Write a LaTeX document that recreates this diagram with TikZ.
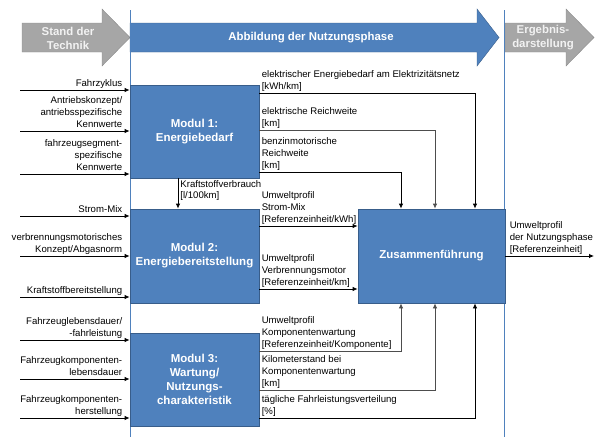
\documentclass[tikz,border=0pt]{standalone}
\usepackage{fontspec}
\setmainfont{Liberation Sans}
\usetikzlibrary{arrows.meta}
\definecolor{modblue}{HTML}{4F81BD}
\definecolor{modedge}{HTML}{385D8A}
\definecolor{stagegray}{HTML}{A6A6A6}
\definecolor{stageedge}{HTML}{8C8C8C}
\definecolor{stagetext}{HTML}{F2F2F2}
\definecolor{linegray}{HTML}{4D4D4D}
\begin{document}
\begin{tikzpicture}
  [x=1pt,y=-1pt,
   modul/.style={rectangle,draw=modedge,line width=.8pt,fill=modblue,text=white,
     font=\fontsize{11.5}{14}\selectfont\bfseries,align=center,inner sep=0pt},
   lbl/.style={font=\fontsize{9.6}{11.6}\selectfont,text depth=0pt,inner xsep=2pt,inner ysep=3.5pt},
   inlbl/.style={lbl,align=right,anchor=south east,xshift=-5pt},
   outlbl/.style={lbl,align=left,anchor=south west},
   arr/.style={draw=black,line width=.8pt,-{Latex[length=5pt,width=4.5pt]}},
   grayarr/.style={arr,draw=linegray},
   phase/.style={font=\fontsize{11.4}{14}\selectfont\bfseries,align=center}]
  \useasboundingbox (0,0) rectangle (595,437);

  % phase arrows
  \filldraw[fill=stagegray,draw=stageedge] (22,23) -- (102,23) -- (102,9) -- (130,37.5)
    -- (102,66) -- (102,52) -- (22,52) -- cycle;
  \filldraw[fill=modblue,draw=modedge] (130,23) -- (477,23) -- (477,9) -- (499,37.5)
    -- (477,66) -- (477,52) -- (130,52) -- cycle;
  \filldraw[fill=stagegray,draw=stageedge] (505,23) -- (566,23) -- (566,9) -- (594,37.5)
    -- (566,66) -- (566,52) -- (505,52) -- cycle;
  \node[phase,text=stagetext] (sdt) at (68,38) {Stand der\\Technik};
  \node[phase,text=white] (anp) at (311,37.5) {Abbildung der Nutzungsphase};
  \node[phase,text=stagetext] (erg) at (543,38) {Ergebnis-\\darstellung};
  \draw[modblue,line width=.8pt] (130,10) -- (130,437);
  \draw[modblue,line width=.8pt] (504,10) -- (504,437);

  % modules
  \node[modul,minimum width=129pt,minimum height=93pt] (m1) at (194.5,131.5) {Modul 1:\\Energiebedarf};
  \node[modul,minimum width=129pt,minimum height=94pt] (m2) at (194.5,256) {Modul 2:\\Energiebereitstellung};
  \node[modul,minimum width=129pt,minimum height=93pt] (m3) at (194.5,379.5) {Modul 3:\\Wartung/\\Nutzungs-\\charakteristik};
  \node[modul,minimum width=147pt,minimum height=94pt] (zus) at (431.5,256) {Zusammenführung};

  % inputs
  \foreach \y/\m/\txt in {90/m1/Fahrzyklus,
      131/m1/{Antriebskonzept/\\antriebsspezifische\\Kennwerte},
      174/m1/{fahrzeugsegment-\\spezifische\\Kennwerte},
      216/m2/Strom-Mix,
      256/m2/{verbrennungsmotorisches\\Konzept/Abgasnorm},
      297/m2/Kraftstoffbereitstellung,
      340/m3/{Fahrzeuglebensdauer/\\-fahrleistung},
      379/m3/{Fahrzeugkomponenten-\\lebensdauer},
      418/m3/{Fahrzeugkomponenten-\\herstellung}}
  {
    \coordinate (in) at (20,\y);
    \draw[arr] (in) -- (in -| \m.west) node[inlbl,pos=1] {\txt};
  }

  % Modul 1 to Modul 2
  \draw[arr] (m1.south -| 178,0) -- (m2.north -| 178,0)
    node[lbl,pos=0,anchor=north west,align=left,inner ysep=1.5pt] {Kraftstoffverbrauch\\{[l/100km]}};

  % outputs to Zusammenfuehrung
  \draw[arr] (m1.east |- 0,93) -| (zus.north -| 475,0)
    node[outlbl,pos=0] {elektrischer Energiebedarf am Elektrizitätsnetz\\{[kWh/km]}};
  \draw[grayarr] (m1.east |- 0,130) -| (zus.north -| 435,0)
    node[outlbl,pos=0] {elektrische Reichweite\\{[km]}};
  \draw[arr] (m1.east |- 0,172) -| (zus.north -| 401,0)
    node[outlbl,pos=0] {benzinmotorische\\Reichweite\\{[km]}};
  \draw[arr] (m2.east |- 0,226) -- (zus.west |- 0,226)
    node[outlbl,pos=0] {Umweltprofil\\Strom-Mix\\{[Referenzeinheit/kWh]}};
  \draw[arr] (m2.east |- 0,289) -- (zus.west |- 0,289)
    node[outlbl,pos=0] {Umweltprofil\\Verbrennungsmotor\\{[Referenzeinheit/km]}};
  \draw[grayarr] (m3.east |- 0,351) -| (zus.south -| 401,0)
    node[outlbl,pos=0] {Umweltprofil\\Komponentenwartung\\{[Referenzeinheit/Komponente]}};
  \draw[grayarr] (m3.east |- 0,390) -| (zus.south -| 435,0)
    node[outlbl,pos=0] {Kilometerstand bei\\Komponentenwartung\\{[km]}};
  \draw[arr] (m3.east |- 0,418) -| (zus.south -| 475,0)
    node[outlbl,pos=0] {tägliche Fahrleistungsverteilung\\{[\%]}};

  % result
  \coordinate (out) at (594,256);
  \draw[arr] (zus.east |- out) -- (out)
    node[outlbl,pos=0,xshift=2pt] {Umweltprofil\\der Nutzungsphase\\{[Referenzeinheit]}};
\end{tikzpicture}
\end{document}
